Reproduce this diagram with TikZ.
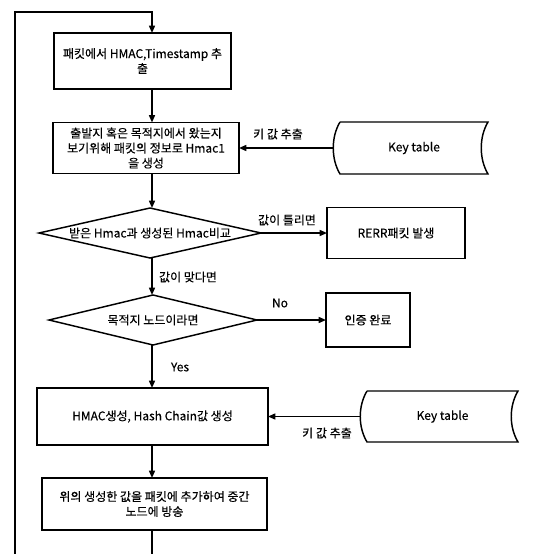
\documentclass[tikz,border=0pt]{standalone}
\usepackage{fontspec}
\setmainfont{Noto Sans CJK KR}[FakeBold=0.3]
\usetikzlibrary{arrows.meta,shapes.geometric,calc}

\tikzset{every picture/.style={line width=1.1pt}}
\tikzset{
  proc/.style={draw, rectangle, inner sep=0pt, outer sep=0pt, align=center, font=\fontsize{9}{11.25}\selectfont},
  dec/.style={draw, diamond, inner sep=0pt, outer sep=0pt},
  txt/.style={inner sep=0pt, outer sep=0pt, align=center, font=\fontsize{9}{11.25}\selectfont},
  arr/.style={-{Triangle[length=5.5pt,width=4.5pt]}},
}

\begin{document}
\begin{tikzpicture}[x=0.75pt,y=0.75pt,yscale=-1,xscale=1]
\useasboundingbox (0,0) rectangle (534,554);

%Coordinates of the main line and the loop
\coordinate (spine) at (152,0);
\coordinate (looptop) at (15,12);
\coordinate (loopbot) at (15,554);
\coordinate (tailbot) at (152,554);

%Flowchart: Process [extract]
\node[proc, minimum width=132.75pt, minimum height=42pt] (extract) at (142.5,61) {패킷에서 HMAC,Timestamp 추\\출};
%Flowchart: Process [make hmac1]
\node[proc, minimum width=139.5pt, minimum height=38.25pt] (mkhmac) at (146,148) {출발지 혹은 목적지에서 왔는지\\보기위해 패킷의 정보로 Hmac1\\을 생성};
%Flowchart: Decision [compare]
\node[dec, minimum width=166.5pt, minimum height=37.5pt] (cmp) at (150,233) {};
\node[txt] (cmptxt) at (cmp) {받은 Hmac과 생성된 Hmac비교};
%Flowchart: Process [rerr]
\node[proc, minimum width=103.5pt, minimum height=38.25pt] (rerr) at (396,233) {RERR패킷 발생};
%Flowchart: Decision [destination]
\node[dec, minimum width=156pt, minimum height=37.5pt] (dest) at (153,320) {};
\node[txt] (desttxt) at (dest) {목적지 노드이라면};
%Flowchart: Process [done]
\node[proc, minimum width=63pt, minimum height=40.5pt] (done) at (368,320) {인증 완료};
%Flowchart: Process [hmac + hash chain]
\node[proc, minimum width=173.25pt, minimum height=42.75pt] (hchain) at (152.5,416.5) {HMAC생성, Hash Chain값 생성};
%Flowchart: Process [broadcast]
\node[proc, minimum width=168.75pt, minimum height=39pt] (bcast) at (154.5,504) {위의 생성한 값을 패킷에 추가하여 중간\\노드에 방송};

%Stored data [key table 1]
\node[txt, minimum width=111pt, minimum height=39pt] (kt1) at (414,148) {Key table};
\draw (kt1.north west) -- (kt1.north east) .. controls ($(kt1.north east)+(-9,15)$) and ($(kt1.south east)+(-9,-15)$) .. (kt1.south east) -- (kt1.south west) .. controls ($(kt1.south west)+(-9,-15)$) and ($(kt1.north west)+(-9,15)$) .. (kt1.north west);
\coordinate (kt1w) at ($(kt1.west)+(-7,0)$);
%Stored data [key table 2]
\node[txt, minimum width=113.25pt, minimum height=38.25pt] (kt2) at (442.5,416.5) {Key table};
\draw (kt2.north west) -- (kt2.north east) .. controls ($(kt2.north east)+(-9,15)$) and ($(kt2.south east)+(-9,-15)$) .. (kt2.south east) -- (kt2.south west) .. controls ($(kt2.south west)+(-9,-15)$) and ($(kt2.north west)+(-9,15)$) .. (kt2.north west);
\coordinate (kt2w) at ($(kt2.west)+(-7,0)$);

%Connectors
\draw[arr] (loopbot) -- (looptop) -| (extract.north -| spine);
\draw[arr] (extract.south -| spine) -- (mkhmac.north -| spine);
\draw[arr] (kt1w) -- (mkhmac.east);
\draw[arr] (mkhmac.south -| spine) -- (cmp.north -| spine);
\draw[arr] (cmp.east) -- (rerr.west);
\draw[arr] (cmp.south -| spine) -- (dest.north -| spine);
\draw[arr] (dest.east) -- (done.west);
\draw[arr] (dest.south -| spine) -- (hchain.north -| spine);
\draw[arr] (kt2w) -- (hchain.east);
\draw[arr] (hchain.south -| spine) -- (bcast.north -| spine);
\draw (bcast.south -| spine) -- (tailbot);

% Text Node
\node[txt] (lkey1) at (278,134) {키 값 추출};
% Text Node
\node[txt] (lwrong) at (287,220) {값이 틀리면};
% Text Node
\node[txt] (lright) at (188,277) {값이 맞다면};
% Text Node
\node[txt] (lno) at (280,303) {No};
% Text Node
\node[txt] (lyes) at (180,367) {Yes};
% Text Node
\node[txt] (lkey2) at (327,433) {키 값 추출};

\end{tikzpicture}
\end{document}
